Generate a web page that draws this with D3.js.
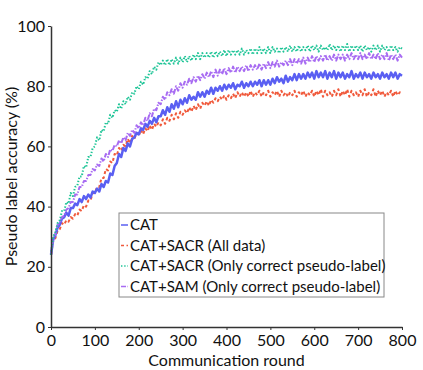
<!DOCTYPE html>
<html>
<head>
<meta charset="utf-8">
<script src="https://cdn.jsdelivr.net/npm/d3@7"></script>
<style>
  body { margin: 0; background: #fff; }
  svg { font-family: Lato, "Open Sans", sans-serif; }
</style>
</head>
<body>
<div id="chart"></div>
<script>
// rounds are sampled every 5 communication rounds, 0..800
var roundStep = 5;
var xTicks = [0, 100, 200, 300, 400, 500, 600, 700, 800];
var yTicks = [0, 20, 40, 60, 80, 100];
var seriesNames = ["CAT", "CAT+SACR (All data)", "CAT+SACR (Only correct pseudo-label)", "CAT+SAM (Only correct pseudo-label)"];

var cat = [
  24, 29, 30.5, 33, 34, 36, 36.5, 38, 37, 39.5,
  39.5, 41, 40.5, 42.5, 41.5, 43.5, 42.5, 44, 43, 45,
  44.5, 46, 45, 47.5, 46.5, 48.5, 48, 51, 50.5, 53.5,
  54.5, 57.5, 56.5, 59.5, 58.5, 61, 60, 62.5, 63, 64.5,
  64, 66, 65.5, 67.5, 66.5, 68.5, 67.5, 69.5, 68, 70,
  70, 72, 70.5, 73, 71.5, 74, 72.5, 75, 73, 75.5,
  74, 76, 74.5, 77, 75.5, 76.5, 75.5, 78, 76.5, 78,
  76.5, 78.5, 77.5, 79.5, 77.5, 79.5, 78.5, 80, 78.5, 80.5,
  79, 80.5, 79.5, 81, 79, 80.5, 80, 81.5, 79.5, 81,
  80, 81.5, 80, 81.5, 80.5, 82, 80, 82, 80.5, 82,
  80.5, 82.5, 81, 83, 81.5, 82.5, 81, 83.5, 81.5, 83,
  82, 84, 82, 84, 82.5, 84, 82.5, 84.5, 83, 84.5,
  82.5, 85, 83, 84.5, 83, 85, 82.5, 84.5, 83, 85,
  82.5, 84.5, 83, 84.5, 82.5, 84, 83, 85, 82.5, 84,
  83, 84.5, 82.5, 84.5, 83, 84, 82.5, 84.5, 83, 84,
  82.5, 84.5, 83, 84, 82.5, 84.5, 83, 84.5, 82.5, 84, 83.5
];
var sacrAll = [
  24, 28.5, 29.5, 32, 32.5, 34.5, 34, 35.5, 35, 36.5,
  36, 37.5, 37, 39, 38.5, 40.5, 40, 42, 42, 44.5,
  44.5, 46.5, 46.5, 49.5, 49.5, 52.5, 52, 55, 54.5, 57.5,
  57, 59.5, 58.5, 60.5, 60, 62.5, 61, 63.5, 62.5, 64.5,
  63.5, 65.5, 64, 66, 65, 67, 65.5, 67.5, 66.5, 68,
  67, 69, 67.5, 69.5, 68.5, 70.5, 69, 71, 69.5, 71.5,
  70.5, 72, 71, 73, 71.5, 73.5, 72, 74, 72.5, 74.5,
  73.5, 75, 73.5, 75.5, 74.5, 76, 75, 76.5, 75.5, 77,
  75.5, 77, 76, 77.5, 76, 78, 76.5, 78, 76.5, 78,
  76.5, 78.5, 76.5, 78, 77, 78.5, 76.5, 78, 77, 78.5,
  76.5, 78, 77, 78.5, 76.5, 78.5, 77, 78, 76.5, 78,
  77, 78.5, 76.5, 78, 77, 78.5, 76.5, 78, 77, 78.5,
  76.5, 78.5, 77, 79, 76.5, 78.5, 77, 78, 76.5, 78.5,
  77, 79, 76.5, 78.5, 77, 79, 76.5, 78.5, 77, 78,
  76.5, 78.5, 77, 79, 76.5, 78, 77, 79, 76.5, 78.5,
  77, 78.5, 76.5, 78, 77, 78.5, 76.5, 78.5, 77, 78, 78
];
var sacrCorrect = [
  24, 30, 31.5, 34.5, 35.5, 38.5, 38.5, 41.5, 41, 44.5,
  43.5, 46.5, 47, 50, 50, 53.5, 53, 56.5, 56.5, 59.5,
  60, 63, 62, 65.5, 65, 68, 67.5, 70.5, 69.5, 72,
  71.5, 74, 72.5, 75, 74, 76.5, 75.5, 78, 77.5, 80,
  79, 81.5, 80.5, 83, 82.5, 85, 84, 86.5, 85.5, 88,
  87, 88.5, 87, 89, 87, 89, 87.5, 89.5, 87.5, 89.5,
  88, 90, 88, 90, 88.5, 90.5, 89, 91, 89, 91,
  89.5, 91, 89.5, 91.5, 89.5, 91.5, 90, 91.5, 90, 92,
  90, 92, 90.5, 92, 90.5, 92, 90.5, 92.5, 90.5, 92,
  91, 92.5, 90.5, 92.5, 91, 93, 91, 92.5, 91, 93,
  91, 93, 91.5, 92.5, 91, 93, 91.5, 93, 91.5, 93.5,
  91.5, 93, 91.5, 93.5, 91.5, 93, 92, 93.5, 91.5, 93.5,
  92, 93.5, 91.5, 93.5, 92, 93, 92, 94, 92, 93.5,
  92, 93.5, 91.5, 93.5, 92, 94, 91.5, 93.5, 92, 93.5,
  92, 93.5, 91.5, 93.5, 92, 93, 91.5, 93.5, 92, 93.5,
  91.5, 93.5, 92, 93, 91.5, 93.5, 92, 93, 91.5, 93, 92.5
];
var samCorrect = [
  24, 29.5, 31, 34, 34.5, 36.5, 37, 39, 39.5, 41.5,
  41.5, 44, 44, 46.5, 46.5, 48.5, 48.5, 50.5, 50.5, 52.5,
  52, 54, 53.5, 56, 55, 57.5, 56.5, 59, 58.5, 60.5,
  60, 62, 61, 63, 62, 64.5, 63.5, 65.5, 64.5, 67,
  66, 68, 67, 69.5, 68.5, 71, 70, 72.5, 72, 74.5,
  74, 76.5, 75.5, 78, 77, 79, 77.5, 80, 78.5, 81,
  79.5, 81.5, 80.5, 82.5, 81, 83, 81.5, 83.5, 82, 84,
  82.5, 84.5, 83, 85, 83, 85.5, 83.5, 85.5, 84, 86,
  84, 86, 84.5, 86.5, 84.5, 86.5, 85, 86.5, 85, 87,
  85, 87, 85.5, 87, 85.5, 87.5, 85.5, 87.5, 86, 88,
  86, 88, 86.5, 88.5, 86.5, 88, 87, 88.5, 87, 89,
  87, 89, 87.5, 89, 87.5, 89.5, 87.5, 89.5, 88, 90,
  88, 90, 88.5, 90, 88.5, 90.5, 88.5, 90, 88.5, 90.5,
  88.5, 90.5, 89, 90.5, 88.5, 90.5, 89, 91, 89, 90.5,
  89, 91, 89, 90.5, 89, 91, 89, 90.5, 89, 91,
  89, 90.5, 89, 91, 88.5, 90.5, 89, 90.5, 88.5, 90.5, 89.5
];

var width = 423, height = 370;
var margin = {top: 26, right: 21, bottom: 43, left: 51};

var series = [
  {name: seriesNames[0], values: cat,         color: "#5a5ff2", width: 2.5, dash: null},
  {name: seriesNames[1], values: sacrAll,     color: "#f05a3c", width: 2, dash: "3,2.5"},
  {name: seriesNames[2], values: sacrCorrect, color: "#1dc496", width: 2, dash: "1.4,1.8"},
  {name: seriesNames[3], values: samCorrect,  color: "#a86cf2", width: 2, dash: "5,1.5,1.4,1.5"}
];
// draw order: red below blue, like the picture
var drawOrder = [1, 0, 3, 2];

var svg = d3.select("#chart").append("svg")
  .attr("width", width)
  .attr("height", height);

var x = d3.scaleLinear().domain([0, 800]).range([margin.left, width - margin.right]);
var y = d3.scaleLinear().domain([0, 100]).range([height - margin.bottom, margin.top]);

var line = d3.line()
  .x(function(d, i) { return x(i * roundStep); })
  .y(function(d) { return y(d); });

drawOrder.forEach(function(k) {
  var s = series[k];
  svg.append("path")
    .datum(s.values)
    .attr("fill", "none")
    .attr("stroke", s.color)
    .attr("stroke-width", s.width)
    .attr("stroke-dasharray", s.dash)
    .attr("stroke-linejoin", "round")
    .attr("d", line);
});

var xAxis = svg.append("g")
  .attr("transform", "translate(0," + y(0) + ")")
  .call(d3.axisBottom(x).tickValues(xTicks).tickSize(3).tickSizeOuter(0));
var yAxis = svg.append("g")
  .attr("transform", "translate(" + x(0) + ",0)")
  .call(d3.axisLeft(y).tickValues(yTicks).tickSize(3).tickSizeOuter(0));

[xAxis, yAxis].forEach(function(a) {
  a.select(".domain").attr("stroke", "#333").attr("stroke-width", 1.5);
  a.selectAll(".tick line").attr("stroke", "#333");
  a.selectAll(".tick text")
    .attr("fill", "#111")
    .style("font-size", "16px")
    .style("font-family", "Lato, sans-serif");
});
xAxis.selectAll(".tick text").attr("y", 4).attr("dy", "0.95em");

svg.append("text")
  .attr("x", (x(0) + x(800)) / 2)
  .attr("y", 366)
  .attr("text-anchor", "middle")
  .attr("fill", "#111")
  .style("font-size", "16px")
  .text("Communication round");

svg.append("text")
  .attr("transform", "translate(17," + y(50) + ") rotate(-90)")
  .attr("text-anchor", "middle")
  .attr("fill", "#111")
  .style("font-size", "16px")
  .text("Pseudo label accuracy (%)");

// legend
var legend = svg.append("g").attr("transform", "translate(119,213)");
legend.append("rect")
  .attr("width", 265)
  .attr("height", 84)
  .attr("fill", "#fff")
  .attr("stroke", "#888")
  .attr("stroke-width", 1);

series.forEach(function(s, i) {
  var row = legend.append("g").attr("transform", "translate(0," + (12 + i * 20.5) + ")");
  row.append("line")
    .attr("x1", 2).attr("x2", 9)
    .attr("stroke", s.color)
    .attr("stroke-width", 1.5)
    .attr("stroke-dasharray", s.dash);
  row.append("text")
    .attr("x", 11)
    .attr("dy", "0.36em")
    .attr("fill", "#111")
    .style("font-size", "15px")
    .text(s.name);
});
</script>
</body>
</html>
